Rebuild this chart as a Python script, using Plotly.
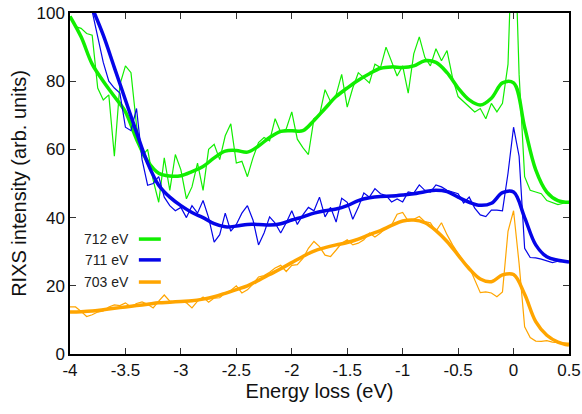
import numpy as np
import plotly.graph_objects as go

# ---------------- data ----------------
# smooth curves sampled every 0.1 eV from -4.0 to 0.5
e_smooth = [round(-4.0 + 0.1 * i, 2) for i in range(46)]
green_smooth = [99, 93, 85, 80, 75.5, 71, 63, 56.5, 53, 52.2,
                52.3, 53.5, 55, 57.5, 59.5, 59.7, 59.2, 61, 63.5, 65.3,
                65.5, 65.5, 68.5, 72, 75.5, 78, 80.3, 82.2, 83.8, 84.2,
                84, 84.5, 86, 85.5, 82.5, 78, 74.5, 73, 75, 79.5,
                79.5, 66.5, 54, 47.5, 45, 44.5]
blue_smooth = [None, None, 101.5, 93.5, 84, 74.5, 65, 56, 49.5, 46,
               43.5, 41.5, 40, 38.2, 37.3, 37.5, 38, 38, 37.8, 38.2,
               39.3, 40.2, 41.3, 42, 42.5, 43.5, 45, 45.8, 46.2, 46.3,
               46.6, 47, 47.6, 48, 47.6, 46, 44.5, 43.6, 44.2, 47.3,
               47.5, 40, 32, 28.5, 27.5, 27]
orange_smooth = [12.3, 12.4, 12.6, 13, 13.4, 13.8, 14.2, 14.6, 15, 15.2,
                 15.4, 15.6, 16.1, 16.8, 17.8, 18.9, 20, 21.6, 23.3, 25,
                 26.8, 28.6, 30.2, 31.2, 32, 32.7, 33.7, 35, 36.2, 37.7,
                 39, 39.3, 38.5, 36.2, 33, 29, 25, 22, 21.2, 23.2,
                 23.3, 17.5, 9.5, 5.5, 3.5, 2.6]

# measured (noisy) spectra sampled every 0.05 eV from -4.0 to 0.5
e_raw = [round(-4.0 + 0.05 * i, 2) for i in range(91)]
green_raw = [99, 96, 95.5, 94, 93.5, 78, 74.5, 76, 58, 79,
             84.5, 82.5, 67, 58, 60, 51, 44.5, 57.5, 48, 58.5,
             54, 45.5, 49, 56, 48, 60, 61.5, 57, 64, 67.5,
             56, 56.5, 52, 57.5, 62, 63.5, 62.5, 69, 65, 66,
             71, 63, 60.5, 58.5, 69, 70, 77.5, 74, 76, 82,
             72.4, 78, 82.5, 81, 79.5, 85, 84, 90, 86, 81.5,
             84.5, 76.5, 88, 93, 87, 84.5, 89.5, 86, 89, 81,
             75.5, 74, 72.5, 71, 72, 69, 73.5, 71, 73.5, 85,
             135, 82, 52, 48, 47.5, 47, 45, 44.5, 43.8, 44.2,
             44.5]
blue_raw = [None, None, None, 108, 100.5, 93, 85.5, 80, 78, 76.5,
            66.5, 65.5, 72, 57, 49.5, 50, 52, 46, 43.5, 42,
            43, 40, 43.5, 41.3, 45, 40, 32.8, 35, 41.3, 36,
            38, 41.3, 43.5, 39.3, 32, 35.5, 40.2, 38.4, 35.5, 38.5,
            42, 38, 40.8, 43, 42, 46, 40.2, 43, 38.7, 45.7,
            44.5, 39.5, 43, 47.2, 46, 48.5, 47, 46.5, 44.6, 45.5,
            44.6, 47.5, 47.2, 49.6, 48, 47.5, 49.6, 49, 48, 47.5,
            47, 44.3, 46, 42.8, 40.8, 40.3, 42.2, 42.2, 42, 53,
            66.5, 58, 31, 28.3, 28.2, 27.8, 27.2, 26.8, 27.2, 27,
            27]
orange_raw = [13.8, 13.8, 12.5, 11, 11.5, 12.3, 12.6, 13.8, 14.4, 14.2,
              15, 13.8, 14.8, 15.3, 14.6, 13.5, 15.5, 17.3, 15.5, 15.2,
              15.6, 15, 13.5, 15.5, 16.7, 15.2, 16.4, 16.5, 17.9, 18.6,
              20, 17.9, 18.8, 20.5, 22.6, 23, 24, 25.2, 26, 24.2,
              26, 26.2, 28, 31, 33, 31.5, 29, 28.6, 30.5, 32.5,
              33.5, 32, 32.5, 33.5, 35.5, 34.3, 35.5, 37, 37.8, 41,
              41.5, 39, 39.5, 40.3, 38.8, 38.5, 36, 38.5, 35, 32,
              29.5, 27, 25.5, 22, 18, 18.2, 17.9, 16.8, 18.2, 36,
              42, 26.5, 8, 4.8, 3.8, 3.7, 3.9, 3.5, 3.3, 3.2,
              3.2]

labels = ["712 eV", "711 eV", "703 eV"]
colors = ["#11ee00", "#0505e8", "#ffa500"]
raws = [green_raw, blue_raw, orange_raw]
smooths = [green_smooth, blue_smooth, orange_smooth]

x_ticks = [-4, -3.5, -3, -2.5, -2, -1.5, -1, -0.5, 0, 0.5]
x_ticklabels = ["-4", "-3.5", "-3", "-2.5", "-2", "-1.5", "-1", "-0.5", "0", "0.5"]
y_ticks = [0, 20, 40, 60, 80, 100]

# ---------------- figure ----------------
fig = go.Figure()
for lab, col, raw, sm in zip(labels, colors, raws, smooths):
    fig.add_trace(go.Scatter(x=e_raw, y=raw, mode="lines",
                             line=dict(color=col, width=1.2),
                             showlegend=False, connectgaps=False))
    fig.add_trace(go.Scatter(x=e_smooth, y=sm, mode="lines",
                             line=dict(color=col, width=3.5, shape="spline", smoothing=1.0),
                             name=lab, showlegend=False))

font_family = "Liberation Sans, Arial, Helvetica, sans-serif"

# legend drawn as text + key lines (text left of key, like the original)
leg_y = [0.337, 0.276, 0.211]
for lab, col, yy in zip(labels, colors, leg_y):
    fig.add_annotation(x=0.122, y=yy, xref="paper", yref="paper", text=lab,
                       showarrow=False, xanchor="right", yanchor="middle",
                       font=dict(family=font_family, size=14, color="#222"))
    fig.add_shape(type="line", xref="paper", yref="paper",
                  x0=0.138, x1=0.182, y0=yy, y1=yy,
                  line=dict(color=col, width=3.5))

axis_common = dict(
    showline=True, linecolor="black", linewidth=1.5, mirror="ticks",
    ticks="inside", ticklen=6, tickwidth=1, tickcolor="#333",
    showgrid=False, zeroline=False, automargin=False,
    tickfont=dict(family=font_family, size=17, color="#111"),
    title_font=dict(family=font_family, size=20, color="#111"),
)

fig.update_xaxes(range=[-4, 0.5], tickvals=x_ticks, ticktext=x_ticklabels,
                 title_text="Energy loss (eV)", title_standoff=4, **axis_common)
fig.update_yaxes(range=[0, 100], tickvals=y_ticks,
                 title_text="RIXS intensity (arb. units)", title_standoff=4,
                 **axis_common)

fig.update_layout(
    width=582, height=414,
    margin=dict(l=70, r=13, t=13, b=60),
    paper_bgcolor="white", plot_bgcolor="white",
    showlegend=False,
)

fig.write_html("out.html")
